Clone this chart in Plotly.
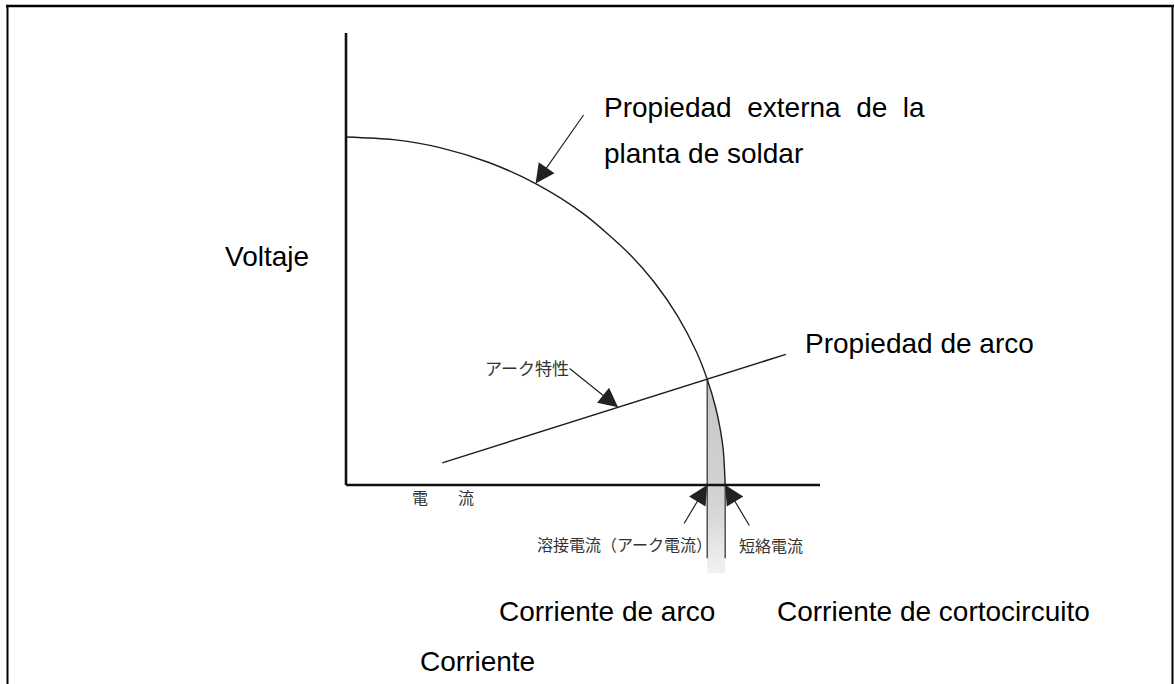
import numpy as np
import plotly.graph_objects as go

W, H = 1175, 684

# ---- data (current: % of drawn axis length, voltage: % of drawn axis height) ----
axis_current = [0, 100]
axis_voltage = [0, 100]

# external characteristic of the welding power source (drooping curve)
curve_current = [0, 10, 20, 30, 40, 50, 60, 65, 70, 74, 76.2, 78, 79, 79.6, 80]
curve_voltage = [77.0, 76.4, 74.6, 71.4, 66.7, 60.1, 50.9, 44.9, 37.3, 29.3, 23.4, 17.1, 12.1, 7.7, 0]

# arc characteristic
arc_current = [20.3, 76.2, 92.8]
arc_voltage = [4.9, 23.4, 28.9]

op_current, op_voltage = 76.2, 23.4      # operating point (arc current)
short_current = 80                       # short-circuit current
guide_bottom = -16.2                     # drop lines below axis
strip_bottom = -19.5                     # shaded strip below axis

# ---- pixel layout helpers ----
X0, Y0 = 346, 485          # origin in pixels
SX, SY = 4.74, 4.52        # pixels per unit
xr = [-X0 / SX, (W - X0) / SX]
yr = [-(H - Y0) / SY, Y0 / SY]

def px(x):
    return x / W

def py(y):
    return 1 - y / H

fig = go.Figure()

# shaded strip between operating point and short-circuit current
strip_x = [c for c in curve_current if c >= op_current] + [short_current, op_current, op_current]
strip_y = [v for c, v in zip(curve_current, curve_voltage) if c >= op_current] + [strip_bottom, strip_bottom, op_voltage]
fig.add_trace(go.Scatter(
    x=strip_x, y=strip_y, mode="lines", fill="toself",
    line=dict(width=0, color="rgba(0,0,0,0)"),
    fillgradient=dict(type="vertical",
                      colorscale=[[0, "#f2f2f2"], [0.35, "#d4d4d4"], [1, "#c6c6c6"]]),
    hoverinfo="skip"))

# drop lines
fig.add_trace(go.Scatter(x=[op_current, op_current], y=[op_voltage, guide_bottom], mode="lines",
                         line=dict(color="#3a3a3a", width=1.3), hoverinfo="skip"))
fig.add_trace(go.Scatter(x=[short_current, short_current], y=[0, guide_bottom], mode="lines",
                         line=dict(color="#3a3a3a", width=1.3), hoverinfo="skip"))

# external characteristic curve
fig.add_trace(go.Scatter(x=curve_current, y=curve_voltage, mode="lines",
                         line=dict(color="#1e1e1e", width=1.4, shape="spline", smoothing=0.8),
                         hoverinfo="skip"))
# arc characteristic line
fig.add_trace(go.Scatter(x=arc_current, y=arc_voltage, mode="lines",
                         line=dict(color="#1e1e1e", width=1.5), hoverinfo="skip"))

# axes
fig.add_trace(go.Scatter(x=[axis_current[0], axis_current[1]], y=[0, 0], mode="lines",
                         line=dict(color="#111111", width=2.6), hoverinfo="skip"))
fig.add_trace(go.Scatter(x=[0, 0], y=[axis_voltage[0], axis_voltage[1]], mode="lines",
                         line=dict(color="#111111", width=2.6), hoverinfo="skip"))

# arrows
ann = []
arrow_style = dict(showarrow=True, arrowhead=2, arrowsize=3.2, arrowwidth=1.2,
                   arrowcolor="#222222", text="", xref="x", yref="y", standoff=0)
tip1 = 40
ann.append(dict(x=tip1, y=float(np.interp(tip1, curve_current, curve_voltage)), ax=49, ay=-70, **arrow_style))
tip2 = 57.4
ann.append(dict(x=tip2, y=float(np.interp(tip2, arc_current, arc_voltage)), ax=-50, ay=-40, **arrow_style))
ann.append(dict(x=op_current, y=0, ax=-24, ay=40, **arrow_style))
ann.append(dict(x=short_current, y=0, ax=25, ay=42, **arrow_style))

# Spanish texts
SF = dict(family="Arial, Liberation Sans, sans-serif", size=28, color="#000000")
NB = "\u00a0\u00a0"
spanish = [
    ("Propiedad" + NB + "externa" + NB + "de" + NB + "la", 602, 107),
    ("planta de soldar", 602, 153),
    ("Voltaje", 223, 256),
    ("Propiedad de arco", 803, 343),
    ("Corriente de arco", 497, 611),
    ("Corriente de cortocircuito", 775, 611),
    ("Corriente", 418, 661),
]
for t, x, y in spanish:
    ann.append(dict(text=t, x=px(x), y=py(y), xref="paper", yref="paper",
                    xanchor="left", yanchor="middle", showarrow=False, font=SF))

# Japanese texts (scanned original)
JF = dict(family="Noto Sans CJK JP", color="#333333")
japanese = [
    ("アーク特性", 483, 367, 17),
    ("溶接電流（アーク電流）", 535, 544, 16),
    ("短絡電流", 737, 545, 16),
    ("電", 410, 497, 16),
    ("流", 456, 497, 16),
]
for t, x, y, s in japanese:
    ann.append(dict(text=t, x=px(x), y=py(y), xref="paper", yref="paper",
                    xanchor="left", yanchor="middle", showarrow=False,
                    font=dict(family=JF["family"], size=s, color=JF["color"])))

# frame
shapes = [
    dict(type="line", xref="paper", yref="paper", x0=px(6), x1=px(1174), y0=py(6), y1=py(6),
         line=dict(color="#000000", width=2.6)),
    dict(type="line", xref="paper", yref="paper", x0=px(7.5), x1=px(7.5), y0=py(5), y1=py(684),
         line=dict(color="#000000", width=2)),
    dict(type="line", xref="paper", yref="paper", x0=px(1172.5), x1=px(1172.5), y0=py(5), y1=py(684),
         line=dict(color="#000000", width=2)),
]

fig.update_layout(
    width=W, height=H, margin=dict(l=0, r=0, t=0, b=0),
    paper_bgcolor="white", plot_bgcolor="white", showlegend=False,
    xaxis=dict(range=xr, visible=False, fixedrange=True),
    yaxis=dict(range=yr, visible=False, fixedrange=True),
    annotations=ann, shapes=shapes,
)

fig.write_html("out.html", config={"displayModeBar": False},
               post_script="document.body.style.margin='0';document.body.style.overflow='hidden';")
